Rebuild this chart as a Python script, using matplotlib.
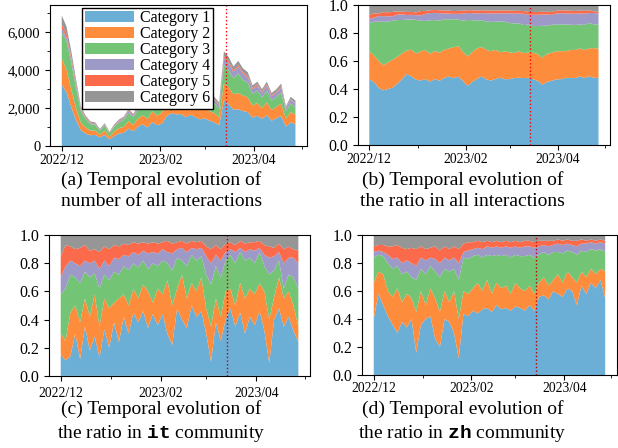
import matplotlib
matplotlib.use('Agg')
import matplotlib.pyplot as plt
import matplotlib.dates as mdates
from matplotlib.ticker import FuncFormatter, MultipleLocator
import numpy as np
import pandas as pd

plt.rcParams['font.family'] = ['Liberation Serif', 'DejaVu Serif']
plt.rcParams['mathtext.fontset'] = 'custom'
plt.rcParams['mathtext.rm'] = 'Liberation Serif'
plt.rcParams['mathtext.tt'] = 'Liberation Mono:bold'

# one sample every 3 days, 2022-12-01 .. 2023-04-27
dates = pd.date_range('2022-12-01', periods=50, freq='3D')
event_date = pd.Timestamp('2023-03-14')
categories = ['Category 1', 'Category 2', 'Category 3', 'Category 4', 'Category 5', 'Category 6']
colors = ['#6baed6', '#fd8d3c', '#74c476', '#9e9ac8', '#fb6a4a', '#969696']

# (a) number of interactions per category
all_cat1 = [3240, 2840, 2050, 1370, 840, 660, 570, 590, 460, 590,
            350, 530, 660, 700, 920, 780, 1030, 1150, 980, 1270,
            1100, 1180, 1580, 1740, 1670, 1690, 1520, 1650, 1540, 1410,
            1460, 1340, 1250, 1100, 2400, 2210, 1930, 1940, 1850, 1790,
            1500, 1600, 1440, 1630, 1340, 1470, 1580, 1030, 1250, 1150]
all_cat2 = [1380, 1200, 950, 630, 400, 320, 250, 230, 150, 230,
            140, 240, 290, 310, 390, 340, 430, 470, 450, 570,
            500, 590, 740, 810, 710, 760, 690, 730, 580, 600,
            590, 500, 490, 410, 900, 890, 800, 860, 820, 780,
            640, 680, 570, 680, 560, 600, 660, 420, 550, 500]
all_cat3 = [1380, 1510, 1400, 1090, 610, 450, 340, 300, 200, 260,
            180, 250, 290, 370, 430, 390, 470, 490, 410, 490,
            530, 730, 800, 740, 650, 720, 690, 700, 700, 630,
            650, 590, 520, 460, 1000, 890, 840, 1030, 820, 780,
            610, 650, 570, 610, 500, 510, 590, 380, 440, 410]
all_cat4 = [210, 190, 200, 140, 80, 50, 50, 50, 30, 40,
            25, 45, 70, 80, 100, 90, 90, 95, 80, 105,
            120, 140, 175, 185, 170, 215, 200, 210, 190, 180,
            215, 200, 180, 185, 350, 380, 335, 360, 330, 275,
            255, 270, 240, 270, 225, 240, 265, 150, 210, 190]
all_cat5 = [210, 190, 100, 100, 60, 50, 30, 25, 20, 25,
            15, 35, 30, 30, 40, 35, 45, 50, 40, 55,
            50, 55, 70, 75, 70, 70, 65, 70, 65, 60,
            60, 55, 50, 45, 100, 95, 85, 90, 80, 80,
            65, 70, 60, 70, 55, 60, 65, 40, 30, 30]
all_cat6 = [480, 380, 300, 180, 110, 80, 60, 60, 45, 60,
            40, 50, 60, 60, 70, 65, 85, 95, 90, 110,
            100, 105, 135, 150, 130, 145, 135, 140, 125, 120,
            125, 115, 110, 100, 250, 235, 210, 220, 200, 195,
            130, 130, 120, 140, 120, 120, 140, 80, 120, 120]

# (c) it community, share per category (percent)
it_cat1 = [15, 11, 14, 30, 12, 35, 18, 28, 13, 33,
           20, 38, 24, 42, 30, 45, 38, 46, 34, 44,
           36, 44, 30, 22, 48, 40, 34, 50, 42, 46,
           30, 10, 38, 25, 40, 48, 35, 45, 30, 42,
           36, 46, 32, 9, 40, 48, 35, 42, 32, 24]
it_cat2 = [15, 14, 31, 20, 26, 20, 24, 30, 22, 22,
           28, 14, 31, 16, 20, 17, 17, 19, 26, 8,
           26, 14, 38, 28, 14, 32, 21, 16, 18, 24,
           18, 25, 17, 17, 20, 14, 15, 21, 25, 20,
           22, 20, 28, 31, 16, 22, 20, 18, 18, 11]
it_cat3 = [28, 37, 27, 20, 28, 19, 28, 15, 27, 17,
           20, 22, 17, 20, 25, 18, 22, 17, 16, 28,
           16, 24, 12, 25, 22, 10, 23, 20, 22, 15,
           24, 30, 23, 28, 22, 24, 30, 22, 27, 22,
           22, 22, 18, 32, 19, 12, 7, 12, 20, 27]
it_cat4 = [12, 16, 10, 10, 12, 8, 10, 9, 14, 10,
           10, 10, 11, 8, 10, 8, 9, 7, 11, 8,
           9, 8, 8, 12, 6, 9, 10, 5, 8, 6,
           13, 15, 8, 12, 6, 4, 8, 3, 6, 6,
           9, 3, 8, 12, 10, 6, 18, 12, 14, 18]
it_cat5 = [15, 15, 10, 10, 13, 11, 9, 8, 12, 10,
           12, 9, 9, 8, 8, 7, 8, 6, 7, 7,
           7, 5, 8, 7, 5, 5, 6, 5, 5, 5,
           7, 10, 7, 8, 6, 5, 5, 5, 6, 5,
           6, 5, 7, 8, 6, 6, 10, 8, 6, 9]
it_cat6 = [15, 7, 8, 10, 9, 7, 11, 10, 12, 8,
           10, 7, 8, 6, 7, 5, 6, 5, 6, 5,
           6, 5, 4, 6, 5, 4, 6, 4, 5, 4,
           8, 10, 7, 10, 6, 5, 7, 4, 6, 5,
           5, 4, 7, 8, 9, 6, 10, 8, 10, 11]

# (d) zh community, share per category (percent)
zh_cat1 = [40, 58, 50, 42, 36, 30, 38, 34, 40, 16,
           36, 40, 42, 26, 20, 40, 38, 30, 12, 44,
           42, 46, 44, 47, 48, 45, 50, 47, 48, 46,
           49, 48, 46, 50, 46, 56, 57, 54, 60, 58,
           56, 62, 60, 50, 64, 58, 66, 62, 68, 55]
zh_cat2 = [26, 16, 22, 18, 20, 32, 14, 24, 15, 29,
           24, 10, 20, 29, 25, 20, 14, 30, 28, 16,
           16, 16, 22, 13, 20, 13, 16, 15, 16, 12,
           17, 14, 14, 14, 12, 10, 13, 10, 8, 14,
           10, 12, 10, 16, 10, 12, 10, 10, 8, 19]
zh_cat3 = [18, 12, 13, 20, 20, 16, 20, 16, 15, 23,
           16, 22, 16, 19, 25, 16, 22, 16, 28, 24,
           25, 23, 20, 24, 18, 27, 20, 23, 22, 26,
           20, 23, 25, 22, 26, 20, 18, 22, 20, 16,
           21, 15, 18, 20, 15, 18, 14, 17, 14, 14]
zh_cat4 = [4, 3, 3, 6, 7, 6, 8, 8, 10, 10,
           8, 10, 6, 9, 10, 8, 8, 8, 12, 4,
           6, 5, 5, 6, 6, 6, 6, 6, 6, 7,
           6, 6, 7, 6, 7, 6, 5, 6, 5, 6,
           6, 5, 5, 6, 5, 6, 5, 5, 5, 6]
zh_cat5 = [4, 4, 5, 6, 9, 9, 11, 8, 11, 12,
           8, 8, 7, 9, 9, 8, 8, 8, 10, 6,
           6, 5, 5, 5, 4, 4, 4, 4, 4, 4,
           4, 4, 4, 4, 4, 4, 3, 4, 3, 3,
           3, 3, 3, 4, 3, 2, 2, 2, 2, 2]
zh_cat6 = [8, 7, 7, 8, 8, 7, 9, 10, 9, 10,
           8, 10, 9, 8, 11, 8, 10, 8, 10, 6,
           5, 5, 4, 5, 4, 5, 4, 5, 4, 5,
           4, 5, 4, 4, 5, 4, 4, 4, 4, 3,
           4, 3, 4, 4, 3, 4, 3, 4, 3, 4]

counts = np.array([all_cat1, all_cat2, all_cat3, all_cat4, all_cat5, all_cat6], dtype=float)
it_vals = np.array([it_cat1, it_cat2, it_cat3, it_cat4, it_cat5, it_cat6], dtype=float)
zh_vals = np.array([zh_cat1, zh_cat2, zh_cat3, zh_cat4, zh_cat5, zh_cat6], dtype=float)

def as_ratio(v):
    return v / v.sum(axis=0)

fig = plt.figure(figsize=(6.18, 4.48), dpi=100)

def panel(rect, values, line_color, ylabel_size, xpad):
    ax = fig.add_axes(rect)
    ax.stackplot(dates, *values, colors=colors, labels=categories, linewidth=0)
    ax.axvline(event_date, color=line_color, linestyle=':', linewidth=1)
    ax.xaxis.set_major_locator(mdates.MonthLocator(bymonth=[12, 2, 4]))
    ax.xaxis.set_minor_locator(mdates.MonthLocator())
    ax.xaxis.set_major_formatter(mdates.DateFormatter('%Y/%m'))
    ax.tick_params(axis='x', labelsize=9.8, pad=xpad)
    ax.tick_params(axis='y', labelsize=ylabel_size)
    return ax

ax_a = panel([0.081, 0.674, 0.416, 0.315], counts, 'red', 10.5, 2.5)
ax_a.set_ylim(0, 7450)
ax_a.yaxis.set_major_locator(MultipleLocator(2000))
ax_a.yaxis.set_minor_locator(MultipleLocator(1000))
ax_a.yaxis.set_major_formatter(FuncFormatter(lambda v, p: f'{v:,.0f}'))
ax_a.legend(loc='upper left', bbox_to_anchor=(0.125, 0.98), borderaxespad=0,
            fontsize=11.5, fancybox=False, edgecolor='black', framealpha=1,
            handlelength=3.1, handleheight=0.75, labelspacing=0.0,
            handletextpad=0.4, borderpad=0.15)

ax_b = panel([0.579, 0.676, 0.408, 0.313], as_ratio(counts), 'red', 11.5, 2.5)
ax_c = panel([0.079, 0.161, 0.423, 0.314], as_ratio(it_vals), '#c00000', 11.5, 4.5)
ax_d = panel([0.586, 0.163, 0.412, 0.312], as_ratio(zh_vals), '#c00000', 11.5, 1.5)
for ax in (ax_b, ax_c, ax_d):
    ax.set_ylim(0, 1)
    ax.yaxis.set_major_locator(MultipleLocator(0.2))
    ax.yaxis.set_major_formatter(FuncFormatter(lambda v, p: f'{v:.1f}'))

captions = [
    (0.261, 0.575, '(a) Temporal evolution of\nnumber of all interactions'),
    (0.748, 0.575, '(b) Temporal evolution of\nthe ratio in all interactions'),
    (0.261, 0.058, '(c) Temporal evolution of\nthe ratio in $\\mathtt{it}$ community'),
    (0.748, 0.058, '(d) Temporal evolution of\nthe ratio in $\\mathtt{zh}$ community'),
]
for x, y, s in captions:
    fig.text(x, y, s, ha='center', va='center', fontsize=14, linespacing=1.35)

fig.savefig('out.png', dpi=100)
